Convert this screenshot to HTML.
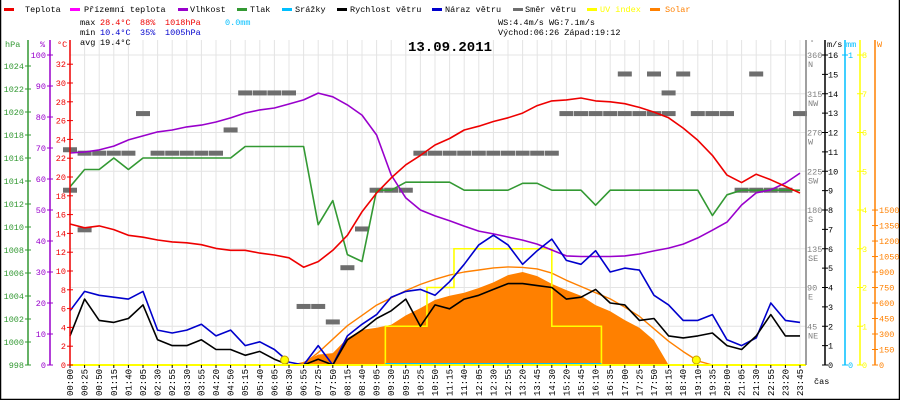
<!DOCTYPE html>
<html><head><meta charset="utf-8">
<style>
html,body{margin:0;padding:0;background:#fff;}
#wrap{position:relative;width:900px;height:400px;overflow:hidden;background:#fff;font-family:"Liberation Mono",monospace;}
svg{position:absolute;left:0;top:0;}
</style></head>
<body>
<div id="wrap">
<svg id="chart" width="900" height="400" viewBox="0 0 900 400"></svg>
</div>
<script>
// ---- data (x axis = sample index, labelled below) ----
const timeLabels = ["00:00","00:25","00:50","01:15","01:40","02:05","02:30","02:55","03:30","03:55","04:20","04:50","05:15","05:40","06:05","06:30","06:55","07:25","07:50","08:15","08:40","09:05","09:30","09:55","10:25","10:50","11:15","11:40","12:05","12:30","12:55","13:20","13:45","14:30","15:20","15:45","16:10","16:35","17:00","17:25","17:50","18:15","18:40","19:10","19:35","20:00","21:05","21:30","22:55","23:20","23:45"];
const temperature = [15,14.6,14.8,14.4,13.8,13.6,13.3,13.1,13,12.8,12.4,12.2,12.2,11.9,11.7,11.4,10.4,11,12.2,13.8,16.3,18.3,19.9,21.3,22.3,23.4,24.1,25,25.4,25.9,26.3,26.8,27.6,28.1,28.2,28.4,28.1,28,27.8,27.4,26.9,26.3,25.2,23.9,22.3,20.2,19.4,20.3,19.7,19,18.3];
const humidity = [68.4,68.7,69.4,70.6,72.6,73.9,75.2,75.8,76.8,77.4,78.4,79.7,81.3,82.3,82.9,84.2,85.5,87.7,86.5,83.9,80.6,74.2,61.3,53.9,50,48.1,46.5,44.8,43.2,42.3,41.3,40.3,39,37.1,35.2,35,35,35,35.2,35.8,36.8,37.7,39,41,43.5,46.1,51.6,55.5,56.5,58.7,61.9];
const pressure = [1013.5,1015,1015,1016,1015,1016,1016,1016,1016,1016,1016,1016,1017,1017,1017,1017,1017,1010.2,1012.3,1007.6,1007,1013.2,1013.2,1013.9,1013.9,1013.9,1013.9,1013.2,1013.2,1013.2,1013.2,1013.8,1013.8,1013.2,1013.2,1013.2,1011.9,1013.2,1013.2,1013.2,1013.2,1013.2,1013.2,1013.2,1011,1012.8,1013.2,1013.2,1013.2,1013.2,1013.2];
const windSpeed = [1.5,3.4,2.3,2.2,2.4,3.1,1.3,1,1,1.3,0.8,0.8,0.5,0.7,0.3,0,0,0.3,0,1.3,1.8,2.4,2.8,3.4,2.0,3.1,2.9,3.4,3.6,3.9,4.2,4.2,4.1,4.0,3.4,3.5,3.9,3.2,3.1,2.3,2.4,1.5,1.4,1.5,1.65,1,0.8,1.5,2.6,1.5,1.5];
const windGust = [2.8,3.8,3.6,3.5,3.4,3.8,1.8,1.65,1.8,2.1,1.5,1.8,1,1.2,0.8,0.15,0,1,0,1.5,2.1,2.6,3.5,3.8,3.9,3.6,4.3,5.2,6.2,6.7,6.2,5.2,5.9,6.5,5.4,5.2,5.9,4.8,5,4.9,3.6,3.1,2.3,2.3,2.6,1.3,1,1.4,3.2,2.3,2.2];
const windDir = [250,246,246,246,246,292,246,246,246,246,246,273,316,316,316,316,68,68,50,113,158,203,203,203,246,246,246,246,246,246,246,246,246,246,292,292,292,292,338,292,338,292,338,292,292,292,203,203,203,203,292];
const windDir2 = [203,157,null,null,null,null,null,null,null,null,null,null,null,null,null,null,null,null,null,null,null,null,null,null,null,null,null,null,null,null,null,null,null,null,null,null,null,null,292,null,292,316,null,null,null,null,null,338,null,null,null];
const solar = [0,0,0,0,0,0,0,0,0,0,0,0,0,0,0,0,30,100,115,260,340,360,390,480,550,630,670,700,745,800,870,900,860,785,725,670,580,520,435,360,240,0,0,0,0,0,0,0,0,0,0];
const solarMax = [0,0,0,0,0,0,0,0,0,0,0,0,0,0,0,0,10,120,250,380,480,580,650,720,780,830,870,900,920,940,950,945,930,890,820,760,700,640,560,470,350,230,130,40,0,0,0,0,0,0,0];
const uvSteps = [0,21.6,24.45,26.3,33,36.4,50.4];
const uvValues = [0,1,2,3,1,0];
const sunEvents = [14.7,42.9];
const pressureTicks = [998,1000,1002,1004,1006,1008,1010,1012,1014,1016,1018,1020,1022,1024];
const humidityTicks = [0,10,20,30,40,50,60,70,80,90,100];
const tempTicks = [0,2,4,6,8,10,12,14,16,18,20,22,24,26,28,30,32];
const dirTicks = [0,45,90,135,180,225,270,315,360];
const dirNames = ["","NE","E","SE","S","SW","W","NW","N"];
const speedTicks = [0,1,2,3,4,5,6,7,8,9,10,11,12,13,14,15,16];
const uvTicks = [0,1,2,3,4,5,6,7,8];
const solarTicks = [0,150,300,450,600,750,900,1050,1200,1350,1500];

// ---- scales ----
const X0=70, DX=14.6, YB=365, FS=8.5, CW=5;
const xI=i=>X0+i*DX;
const yT=t=>YB-t*9.4;
const yH=h=>YB-h*3.1;
const yP=p=>YB-(p-998)*11.5;
const yW=w=>YB-w*19.375;
const yD=d=>YB-d*0.861;
const yS=s=>YB-s*0.1033;
const yU=u=>YB-u*38.75;

const NS="http://www.w3.org/2000/svg";
const svg=document.getElementById('chart');
function mk(tag,attrs,parent){const e=document.createElementNS(NS,tag);for(const k in attrs)e.setAttribute(k,attrs[k]);(parent||svg).appendChild(e);return e;}
function txt(x,y,s,fill,size,anchor,extra){const t=mk('text',Object.assign({x:x,y:y,fill:fill,'font-size':size||FS,'font-family':'"Liberation Mono",monospace','text-anchor':anchor||'start'},extra||{}));t.textContent=s;return t;}

// border
let b=mk('path',{d:'M0.5 0 V399.5 H899.5 V0',fill:'none',stroke:'#000','stroke-width':1.5});



// grid
const grid=mk('g',{stroke:'#e4e4e4','stroke-width':1});


for(let i=0;i<timeLabels.length;i++){mk('line',{x1:xI(i),x2:xI(i),y1:40,y2:YB},grid);}
for(let k=1;k<=8;k++){mk('line',{x1:X0,x2:806,y1:yW(k*2),y2:yW(k*2)},grid);}

// solar fill
let sp='M'+xI(0)+' '+YB;
solar.forEach((v,i)=>{sp+=' L'+xI(i)+' '+yS(v);});
sp+=' L'+xI(solar.length-1)+' '+YB+' Z';
let sf=mk('path',{d:sp,fill:'#ff8000',stroke:'none'});



function line(arr,yf,color,name,w){
  let d='';arr.forEach((v,i)=>{d+=(i?' L':'M')+xI(i).toFixed(1)+' '+yf(v).toFixed(1);});
  const p=mk('path',{d:d,fill:'none',stroke:color,'stroke-width':w||1.6,'stroke-linejoin':'round'});
  
  
  return p;
}
line(solarMax,yS,'#ff8000','solar-max-line',1.4);

// UV steps
let ud='M'+xI(uvSteps[0])+' '+yU(uvValues[0]);
for(let k=0;k<uvValues.length;k++){ud+=' L'+xI(uvSteps[k])+' '+yU(uvValues[k])+' L'+xI(uvSteps[k+1])+' '+yU(uvValues[k]);}
let uvp=mk('path',{d:ud,fill:'none',stroke:'#ffff00','stroke-width':1.6});


let rl=mk('line',{x1:xI(uvSteps[1]),x2:xI(uvSteps[5]),y1:YB-1,y2:YB-1,stroke:'#00bfff','stroke-width':2});



// wind direction dashes
const dg=mk('g',{fill:'#6e6e6e'});


[windDir,windDir2].forEach(arr=>arr.forEach((d,i)=>{if(d===null)return;
  const r=mk('rect',{x:xI(i)-7,y:yD(d)-2.5,width:14,height:5},dg);
  
  
}));

line(pressure,yP,'#339933','pressure-line');
line(humidity,yH,'#9900cc','humidity-line');
line(temperature,yT,'#ee0000','temperature-line');
line(windGust,yW,'#0000cc','wind-gust-line');
line(windSpeed,yW,'#000000','wind-speed-line');

// sunrise/sunset markers
sunEvents.forEach((s,i)=>{const c=mk('circle',{cx:xI(s),cy:YB-5,r:4,fill:'#ffff00',stroke:'#c8a000','stroke-width':1});
  
  });

// bottom axis
let ba=mk('line',{x1:X0,x2:806,y1:YB,y2:YB,stroke:'#ffff00','stroke-width':2});


const xl=mk('g',{});


timeLabels.forEach((s,i)=>{
  mk('line',{x1:xI(i),x2:xI(i),y1:YB,y2:YB+3,stroke:'#000','stroke-width':1},xl);
  const t=txt(0,0,s,'#000',9,'start',{transform:'translate('+(xI(i)+3)+',396) rotate(-90)'});
  xl.appendChild(t);
  
  
});

// left axes
function vaxis(x,color,ticks,yf,labX,anchor,name){
  const g=mk('g',{});
  
  
  mk('line',{x1:x,x2:x,y1:40,y2:YB,stroke:color,'stroke-width':1.5},g);
  ticks.forEach(v=>{const y=yf(v);mk('line',{x1:x-3,x2:x+3,y1:y,y2:y,stroke:color,'stroke-width':1},g);
    g.appendChild(txt(labX,y+3,String(v),color,FS,anchor));});
  return g;
}
vaxis(28,'#339933',pressureTicks,yP,24,'end','pressure-axis');
vaxis(50,'#9900cc',humidityTicks,yH,46,'end','humidity-axis');
vaxis(70,'#ee0000',tempTicks,yT,66,'end','temperature-axis');
txt(5,47,'hPa','#339933');
txt(40,47,'%','#9900cc');
txt(57,47,'°C','#ee0000');

// right axes
const dgx=mk('g',{});


mk('line',{x1:806,x2:806,y1:40,y2:YB,stroke:'#808080','stroke-width':1.5},dgx);
dirTicks.forEach((d,i)=>{const y=yD(d);if(i===0)return;
  dgx.appendChild(txt(807,y+3,String(d),'#808080'));
  dgx.appendChild(txt(808,y+12,dirNames[i],'#808080'));});
txt(810,45,'°','#808080',7);
vaxis(825,'#000',speedTicks,yW,828,'start','wind-speed-axis');
txt(827,47,'m/s','#000');
vaxis(845,'#00bfff',[0,1],v=>v?55:YB,848,'start','rain-axis');
txt(846,47,'mm','#00bfff');
vaxis(860,'#ffff00',uvTicks,yU,862,'start','uv-axis');
const sa=mk('g',{});


mk('line',{x1:875,x2:875,y1:40,y2:YB,stroke:'#ff8000','stroke-width':1.5},sa);
solarTicks.forEach(v=>{const y=yS(v);mk('line',{x1:872,x2:878,y1:y,y2:y,stroke:'#ff8000'},sa);sa.appendChild(txt(879,y+3,String(v),'#ff8000'));});
txt(877,47,'W','#ff8000');
txt(814,384,'čas','#000');

// title + stats
const title=txt(450,51,'13.09.2011','#000',14,'middle',{'font-weight':'bold'});


function line3(x,y,parts){parts.forEach(p=>{txt(x,y,p[0],p[1],FS,'start',{'xml:space':'preserve'});x+=p[0].length*CW;});}
line3(80,25,[['max ','#000'],['28.4°C','#ee0000'],['  ','#000'],['88%','#ee0000'],['  ','#000'],['1018hPa','#ee0000'],['     ','#000'],['0.0mm','#00bfff']]);
line3(80,35,[['min ','#000'],['10.4°C','#0000cc'],['  ','#000'],['35%','#0000cc'],['  ','#000'],['1005hPa','#0000cc']]);
line3(80,45,[['avg ','#000'],['19.4°C','#000']]);
line3(498,25,[['WS:4.4m/s     WG:7.1m/s','#000']]);
line3(498,35,[['Východ:06:26  Západ:19:12','#000']]);

// legend
const legend=[['Teplota','#ee0000',4,25],['Přízemní teplota','#ff00ff',70,84],['Vlhkost','#9900cc',178,190],['Tlak','#339933',237,250],['Srážky','#00bfff',282,295],['Rychlost větru','#000',337,350],['Náraz větru','#0000cc',432,445],['Směr větru','#6e6e6e',513,525],['UV index','#ffff00',587,600],['Solar','#ff8000',650,665]];
legend.forEach(l=>{const g=mk('g',{});
  
  
  mk('rect',{x:l[2],y:8,width:10,height:3,fill:l[1]},g);
  g.appendChild(txt(l[3],12,l[0],l[1]==='#ffff00'?'#ffff00':(l[1]==='#ff8000'?'#ff8000':'#000'),FS));
});
</script>
</body></html>
